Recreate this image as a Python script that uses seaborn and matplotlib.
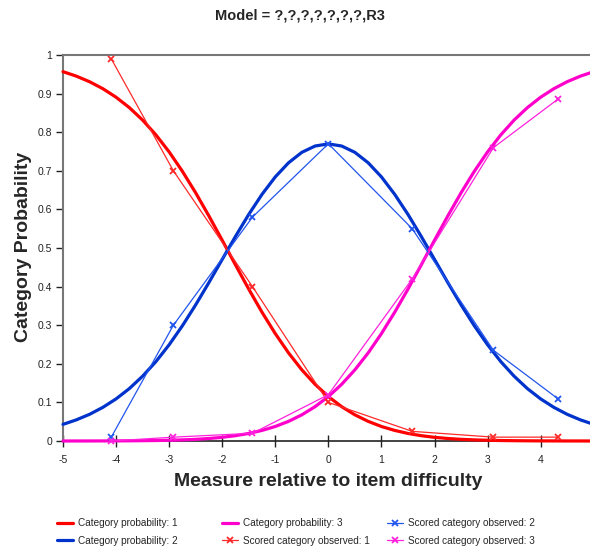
import matplotlib
matplotlib.use("Agg")
import matplotlib.pyplot as plt
import seaborn as sns
import pandas as pd
from matplotlib.lines import Line2D

# ---- data ----
theta = [-5.0, -4.75, -4.5, -4.25, -4.0, -3.75, -3.5, -3.25, -3.0, -2.75, -2.5,
         -2.25, -2.0, -1.75, -1.5, -1.25, -1.0, -0.75, -0.5, -0.25, 0.0,
         0.25, 0.5, 0.75, 1.0, 1.25, 1.5, 1.75, 2.0, 2.25, 2.5, 2.75, 3.0,
         3.25, 3.5, 3.75, 4.0, 4.25, 4.5, 4.75, 5.0]
prob_cat1 = [0.9568, 0.9453, 0.9308, 0.9128, 0.8906, 0.8637, 0.8314, 0.7932, 0.7489, 0.6986, 0.6429,
             0.5828, 0.5200, 0.4562, 0.3935, 0.3336, 0.2782, 0.2282, 0.1844, 0.1468, 0.1151,
             0.0890, 0.0678, 0.0509, 0.0376, 0.0274, 0.0196, 0.0138, 0.0095, 0.0065, 0.0043,
             0.0029, 0.0019, 0.0012, 0.0008, 0.0005, 0.0003, 0.0002, 0.0001, 0.0001, 0.0000]
prob_cat2 = [0.0431, 0.0547, 0.0691, 0.0871, 0.1091, 0.1358, 0.1679, 0.2056, 0.2493, 0.2986, 0.3528,
             0.4107, 0.4705, 0.5300, 0.5870, 0.6390, 0.6842, 0.7208, 0.7478, 0.7642, 0.7697,
             0.7642, 0.7478, 0.7208, 0.6842, 0.6390, 0.5870, 0.5300, 0.4705, 0.4107, 0.3528,
             0.2986, 0.2493, 0.2056, 0.1679, 0.1358, 0.1091, 0.0871, 0.0691, 0.0547, 0.0431]
prob_cat3 = [0.0000, 0.0001, 0.0001, 0.0002, 0.0003, 0.0005, 0.0008, 0.0012, 0.0019, 0.0029, 0.0043,
             0.0065, 0.0095, 0.0138, 0.0196, 0.0274, 0.0376, 0.0509, 0.0678, 0.0890, 0.1151,
             0.1468, 0.1844, 0.2282, 0.2782, 0.3336, 0.3935, 0.4562, 0.5200, 0.5828, 0.6429,
             0.6986, 0.7489, 0.7932, 0.8314, 0.8637, 0.8906, 0.9128, 0.9308, 0.9453, 0.9568]

obs_x = [-4.09, -2.92, -1.43, 0.0, 1.58, 3.11, 4.32]
obs_cat1 = [0.99, 0.70, 0.40, 0.10, 0.025, 0.01, 0.01]
obs_cat2 = [0.01, 0.30, 0.58, 0.77, 0.55, 0.235, 0.11]
obs_cat3 = [0.00, 0.01, 0.02, 0.12, 0.42, 0.76, 0.885]

x_ticks = [-5, -4, -3, -2, -1, 0, 1, 2, 3, 4]
y_ticks = [0, 0.1, 0.2, 0.3, 0.4, 0.5, 0.6, 0.7, 0.8, 0.9, 1.0]
y_tick_labels = ["0", "0.1", "0.2", "0.3", "0.4", "0.5", "0.6", "0.7", "0.8", "0.9", "1"]

title = "Model = ?,?,?,?,?,?,?,R3"
xlabel = "Measure relative to item difficulty"
ylabel = "Category Probability"
legend_labels = ["Category probability: 1", "Category probability: 2",
                 "Category probability: 3", "Scored category observed: 1",
                 "Scored category observed: 2", "Scored category observed: 3"]

RED = "#FF0000"
BLUE = "#0033CC"
MAG = "#FF00CC"
RED_T = "#FF2a2a"
BLUE_T = "#2255EE"
MAG_T = "#FF22DD"

sns.set_theme(style="white")
plt.rcParams["font.family"] = ["Liberation Sans", "DejaVu Sans"]

fig = plt.figure(figsize=(5.9, 5.51), dpi=100)
ax = fig.add_axes([63 / 590, 1 - 441 / 551, 1 - 63 / 590, (441 - 55) / 551])

curves = pd.DataFrame({"theta": theta, "c1": prob_cat1, "c2": prob_cat2, "c3": prob_cat3})
obs = pd.DataFrame({"x": obs_x, "o1": obs_cat1, "o2": obs_cat2, "o3": obs_cat3})

for col, c in [("c1", RED), ("c2", BLUE), ("c3", MAG)]:
    sns.lineplot(data=curves, x="theta", y=col, ax=ax, color=c, lw=2.3,
                 sort=False, legend=False, clip_on=False, zorder=3)
for col, c in [("o1", RED_T), ("o2", BLUE_T), ("o3", MAG_T)]:
    sns.lineplot(data=obs, x="x", y=col, ax=ax, color=c, lw=0.9, marker="x",
                 markersize=5, markeredgewidth=1.3, markeredgecolor=c,
                 markerfacecolor=c, sort=False, legend=False,
                 clip_on=False, zorder=4)

ax.set_xlim(-5, 4.93)
ax.set_ylim(0, 1)
ax.set_xticks(x_ticks)
ax.set_xticklabels([str(v) for v in x_ticks])
ax.set_yticks(y_ticks)
ax.set_yticklabels(y_tick_labels)
ax.tick_params(axis="both", labelsize=7.5, colors="#222222", length=5, width=1,
               direction="out", bottom=True, left=True, pad=3)
ax.tick_params(axis="x", direction="inout", length=8, pad=6)
ax.set_xlabel("")
ax.set_ylabel("")
for s in ["top", "left"]:
    ax.spines[s].set_color("#777777")
    ax.spines[s].set_linewidth(1.5)
ax.spines["bottom"].set_color("#222222")
ax.spines["bottom"].set_linewidth(1.2)
ax.spines["right"].set_visible(False)

fig.text(300 / 590, 1 - 16 / 551, title, ha="center", va="center",
         fontsize=10.5, fontweight="bold")
fig.text(328 / 590, 1 - 481 / 551, xlabel, ha="center", va="center",
         fontsize=14, fontweight="bold")
fig.text(24 / 590, 1 - 247 / 551, ylabel, ha="center", va="center",
         fontsize=14, fontweight="bold", rotation=90)

def line_handle(c):
    return Line2D([], [], color=c, lw=2.3)

def obs_handle(c):
    return Line2D([], [], color=c, lw=0.9, marker="x", markersize=5,
                  markeredgewidth=1.3, markeredgecolor=c)

columns = [
    ([line_handle(RED), line_handle(BLUE)], legend_labels[0:2], 57),
    ([line_handle(MAG), obs_handle(RED_T)], legend_labels[2:4], 222),
    ([obs_handle(BLUE_T), obs_handle(MAG_T)], legend_labels[4:6], 387),
]
for hs, ls, xpx in columns:
    fig.legend(hs, ls, ncol=1, loc="upper left",
               bbox_to_anchor=(xpx / 590, 1 - 518 / 551), frameon=False,
               fontsize=7.2, handlelength=1.6, handletextpad=0.5,
               labelspacing=0.75, borderaxespad=0, borderpad=0)

fig.savefig("out.png", dpi=100, facecolor="white")
